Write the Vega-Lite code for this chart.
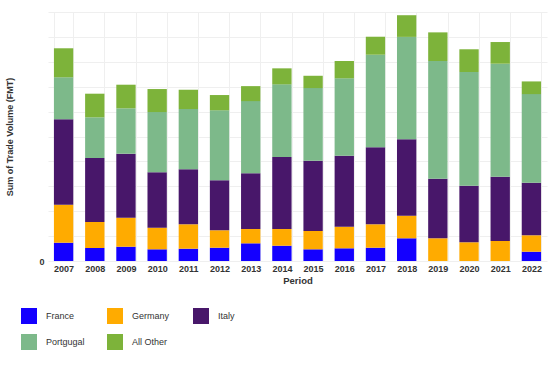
{
  "$schema": "https://vega.github.io/schema/vega-lite/v6.json",
  "width": 499,
  "height": 249,
  "autosize": {"type": "none"},
  "padding": {"left": 48, "top": 12, "right": 3, "bottom": 110},
  "background": "white",
  "config": {"view": {"stroke": null}, "font": "Liberation Sans"},
  "data": {"values": [
    {"Period": "2007", "Country": "France", "Volume": 7.35},
    {"Period": "2007", "Country": "Germany", "Volume": 15.26},
    {"Period": "2007", "Country": "Italy", "Volume": 34.3},
    {"Period": "2007", "Country": "Portgugal", "Volume": 16.87},
    {"Period": "2007", "Country": "All Other", "Volume": 11.65},
    {"Period": "2008", "Country": "France", "Volume": 5.22},
    {"Period": "2008", "Country": "Germany", "Volume": 10.44},
    {"Period": "2008", "Country": "Italy", "Volume": 25.7},
    {"Period": "2008", "Country": "Portgugal", "Volume": 16.35},
    {"Period": "2008", "Country": "All Other", "Volume": 9.48},
    {"Period": "2009", "Country": "France", "Volume": 5.74},
    {"Period": "2009", "Country": "Germany", "Volume": 11.65},
    {"Period": "2009", "Country": "Italy", "Volume": 25.7},
    {"Period": "2009", "Country": "Portgugal", "Volume": 18.23},
    {"Period": "2009", "Country": "All Other", "Volume": 9.48},
    {"Period": "2010", "Country": "France", "Volume": 4.7},
    {"Period": "2010", "Country": "Germany", "Volume": 8.67},
    {"Period": "2010", "Country": "Italy", "Volume": 22.25},
    {"Period": "2010", "Country": "Portgugal", "Volume": 24.2},
    {"Period": "2010", "Country": "All Other", "Volume": 9.24},
    {"Period": "2011", "Country": "France", "Volume": 4.94},
    {"Period": "2011", "Country": "Germany", "Volume": 9.8},
    {"Period": "2011", "Country": "Italy", "Volume": 22.09},
    {"Period": "2011", "Country": "Portgugal", "Volume": 24.2},
    {"Period": "2011", "Country": "All Other", "Volume": 7.75},
    {"Period": "2012", "Country": "France", "Volume": 5.34},
    {"Period": "2012", "Country": "Germany", "Volume": 6.99},
    {"Period": "2012", "Country": "Italy", "Volume": 20.08},
    {"Period": "2012", "Country": "Portgugal", "Volume": 28.1},
    {"Period": "2012", "Country": "All Other", "Volume": 6.14},
    {"Period": "2013", "Country": "France", "Volume": 7.1},
    {"Period": "2013", "Country": "Germany", "Volume": 5.74},
    {"Period": "2013", "Country": "Italy", "Volume": 22.37},
    {"Period": "2013", "Country": "Portgugal", "Volume": 29.0},
    {"Period": "2013", "Country": "All Other", "Volume": 6.02},
    {"Period": "2014", "Country": "France", "Volume": 6.14},
    {"Period": "2014", "Country": "Germany", "Volume": 6.7},
    {"Period": "2014", "Country": "Italy", "Volume": 28.9},
    {"Period": "2014", "Country": "Portgugal", "Volume": 29.2},
    {"Period": "2014", "Country": "All Other", "Volume": 6.43},
    {"Period": "2015", "Country": "France", "Volume": 4.7},
    {"Period": "2015", "Country": "Germany", "Volume": 7.35},
    {"Period": "2015", "Country": "Italy", "Volume": 28.2},
    {"Period": "2015", "Country": "Portgugal", "Volume": 29.2},
    {"Period": "2015", "Country": "All Other", "Volume": 4.94},
    {"Period": "2016", "Country": "France", "Volume": 5.1},
    {"Period": "2016", "Country": "Germany", "Volume": 8.67},
    {"Period": "2016", "Country": "Italy", "Volume": 28.5},
    {"Period": "2016", "Country": "Portgugal", "Volume": 31.1},
    {"Period": "2016", "Country": "All Other", "Volume": 6.95},
    {"Period": "2017", "Country": "France", "Volume": 5.34},
    {"Period": "2017", "Country": "Germany", "Volume": 9.4},
    {"Period": "2017", "Country": "Italy", "Volume": 30.9},
    {"Period": "2017", "Country": "Portgugal", "Volume": 37.2},
    {"Period": "2017", "Country": "All Other", "Volume": 7.23},
    {"Period": "2018", "Country": "France", "Volume": 9.12},
    {"Period": "2018", "Country": "Germany", "Volume": 9.08},
    {"Period": "2018", "Country": "Italy", "Volume": 30.7},
    {"Period": "2018", "Country": "Portgugal", "Volume": 41.1},
    {"Period": "2018", "Country": "All Other", "Volume": 8.71},
    {"Period": "2019", "Country": "France", "Volume": 0},
    {"Period": "2019", "Country": "Germany", "Volume": 9.12},
    {"Period": "2019", "Country": "Italy", "Volume": 23.9},
    {"Period": "2019", "Country": "Portgugal", "Volume": 47.3},
    {"Period": "2019", "Country": "All Other", "Volume": 11.5},
    {"Period": "2020", "Country": "France", "Volume": 0},
    {"Period": "2020", "Country": "Germany", "Volume": 7.51},
    {"Period": "2020", "Country": "Italy", "Volume": 22.7},
    {"Period": "2020", "Country": "Portgugal", "Volume": 45.7},
    {"Period": "2020", "Country": "All Other", "Volume": 9.12},
    {"Period": "2021", "Country": "France", "Volume": 0},
    {"Period": "2021", "Country": "Germany", "Volume": 8.03},
    {"Period": "2021", "Country": "Italy", "Volume": 25.8},
    {"Period": "2021", "Country": "Portgugal", "Volume": 45.4},
    {"Period": "2021", "Country": "All Other", "Volume": 8.71},
    {"Period": "2022", "Country": "France", "Volume": 3.73},
    {"Period": "2022", "Country": "Germany", "Volume": 6.59},
    {"Period": "2022", "Country": "Italy", "Volume": 21.1},
    {"Period": "2022", "Country": "Portgugal", "Volume": 35.6},
    {"Period": "2022", "Country": "All Other", "Volume": 5.1}
  ]},
  "transform": [
    {"calculate": "indexof(['France', 'Germany', 'Italy', 'Portgugal', 'All Other'], datum.Country)", "as": "stackOrder"}
  ],
  "mark": {"type": "bar"},
  "encoding": {
    "x": {
      "field": "Period", "type": "ordinal",
      "scale": {"paddingInner": 0.38, "paddingOuter": 0.19},
      "axis": {
        "title": "Period", "labelAngle": 0, "tickBand": "extent",
        "grid": true, "gridColor": "#efefef", "domain": false, "ticks": false,
        "labelFont": "Liberation Sans", "labelFontSize": 9, "labelFontWeight": "bold", "labelColor": "#333333", "labelPadding": 3,
        "titleFont": "Liberation Sans", "titleFontSize": 9.5, "titleFontWeight": "bold", "titleColor": "#333333", "titlePadding": 2
      }
    },
    "y": {
      "field": "Volume", "type": "quantitative",
      "stack": "zero",
      "scale": {"domain": [0, 100], "nice": false},
      "axis": {
        "title": "Sum of Trade Volume (FMT)",
        "values": [0, 10, 20, 30, 40, 50, 60, 70, 80, 90, 100],
        "labelExpr": "datum.value == 0 ? '0' : ''",
        "grid": true, "gridColor": "#efefef", "domain": false, "ticks": false,
        "labelFont": "Liberation Sans", "labelFontSize": 9, "labelFontWeight": "bold", "labelColor": "#333333", "labelPadding": 4,
        "titleFont": "Liberation Sans", "titleFontSize": 9, "titleFontWeight": "bold", "titleColor": "#333333", "titlePadding": 24
      }
    },
    "color": {
      "field": "Country", "type": "nominal",
      "sort": ["France", "Germany", "Italy", "Portgugal", "All Other"],
      "scale": {
        "domain": ["France", "Germany", "Italy", "Portgugal", "All Other"],
        "range": ["#1400ff", "#ffab00", "#48176a", "#7db98a", "#7db33a"]
      },
      "legend": {
        "title": null, "orient": "none", "legendX": -27, "legendY": 296,
        "direction": "horizontal", "columns": 3, "gridAlign": "all",
        "symbolType": "square", "symbolSize": 256, "symbolStrokeWidth": 0, "symbolOpacity": 1,
        "labelFont": "Liberation Sans", "labelFontSize": 9, "labelColor": "#333333", "labelOffset": 9,
        "columnPadding": 22, "rowPadding": 10
      }
    },
    "order": {"field": "stackOrder", "type": "quantitative", "sort": "ascending"}
  }
}
